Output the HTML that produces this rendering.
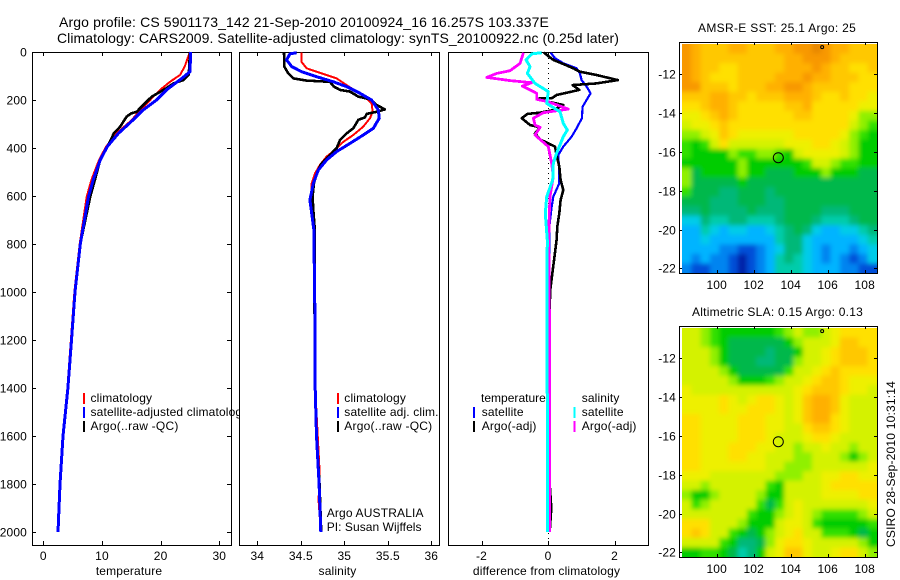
<!DOCTYPE html>
<html lang="en">
<head>
<meta charset="utf-8">
<title>Argo profile chart</title>
<style>
html,body{margin:0;padding:0;background:#fff;}
svg{display:block;font-family:"Liberation Sans",sans-serif;font-size:12px;fill:#000;letter-spacing:0.15px;}
text{fill:#000;}
</style>
</head>
<body>
<svg id="chart" xmlns="http://www.w3.org/2000/svg" width="900" height="580" viewBox="0 0 900 580">
<defs>
<filter id="soften" x="-10%" y="-10%" width="120%" height="120%"><feGaussianBlur stdDeviation="2.4"/></filter>
<clipPath id="clip-sst"><rect x="682" y="44" width="195" height="229"/></clipPath>
<clipPath id="clip-sla"><rect x="682" y="328" width="195" height="229"/></clipPath>
</defs>
<rect x="0" y="0" width="900" height="580" fill="#fff"/>
<text x="59" y="27" font-size="14" textLength="490" lengthAdjust="spacing">Argo profile: CS 5901173_142 21-Sep-2010 20100924_16 16.257S 103.337E</text>
<text x="57" y="43" font-size="14" textLength="562" lengthAdjust="spacing">Climatology: CARS2009. Satellite-adjusted climatology: synTS_20100922.nc (0.25d later)</text>
<g id="layer"></g>
</svg>
<script>
// ---- depth tick labels ----
const depthTicks = [0,200,400,600,800,1000,1200,1400,1600,1800,2000];
const tempTicks = [0,10,20,30];
const salTicks = [34,34.5,35,35.5,36];
const diffTicks = [-2,0,2];
const lonTicks = [100,102,104,106,108];
const latTicks = [12,14,16,18,20,22];

// ---- temperature panel ----
const tempClimDepth = [0,19,61,96,124,158,200,242,283,339,394,450,533,603,800,1000,1200,1400,1600,1720,1800,2000];
const tempClimValue = [25.0,24.7,24.1,23.3,21.6,19.9,18.2,16.5,15.1,12.5,10.7,9.5,8.2,7.4,6.2,5.3,4.7,4.1,3.4,3.0,2.85,2.5];
const tempSatDepth = [0,82,110,158,200,242,283,339,394,450,533,603,800,1000,1200,1400,1600,1800,2000];
const tempSatValue = [25.1,25.0,23.6,21.0,19.3,17.0,15.3,12.8,10.9,9.7,8.5,7.7,6.3,5.4,4.8,4.2,3.35,2.85,2.5];
const tempArgoDepth = [0,94,117,131,158,186,214,249,256,269,311,339,367,394,450,533,603,800,1000,1200,1400,1600,1800,2000];
const tempArgoValue = [25.0,24.8,23.9,22.2,20.5,18.5,17.3,15.9,15.0,14.2,13.1,12.0,11.5,10.9,9.7,8.8,8.0,6.3,5.4,4.8,4.2,3.35,2.88,2.5];

// ---- salinity panel ----
const salClimDepth = [3,40,68,82,96,110,138,165,193,214,249,276,311,346,374,408,436,471,506,547,603,658,728,783,1000,1400,1740,1870,2000];
const salClimValue = [34.506,34.506,34.567,34.682,34.797,34.912,35.027,35.142,35.257,35.314,35.326,35.295,35.218,35.103,34.989,34.893,34.797,34.720,34.663,34.625,34.617,34.625,34.651,34.651,34.66,34.665,34.715,34.705,34.73];
const salSatDepth = [3,8,33,61,82,103,124,144,172,200,242,276,318,346,381,415,450,492,547,617,672,742,783,1000,1400,1600,1800,2000];
const salSatValue = [34.452,34.375,34.337,34.395,34.51,34.682,34.874,35.027,35.18,35.314,35.391,35.402,35.333,35.218,35.065,34.912,34.797,34.701,34.644,34.605,34.625,34.651,34.651,34.66,34.665,34.68,34.71,34.73];
const salArgoDepth = [3,61,89,110,119,124,144,158,165,186,197,221,239,249,258,272,283,318,339,367,401,436,464,499,547,603,658,728,783,1000,1400,1600,1800,2000];
const salArgoValue = [34.307,34.31,34.356,34.414,34.567,34.835,34.881,34.95,35.065,35.161,35.295,35.372,35.467,35.372,35.257,35.238,35.161,35.103,35.027,34.95,34.912,34.816,34.739,34.69,34.651,34.636,34.644,34.659,34.659,34.655,34.668,34.682,34.715,34.735];

// ---- difference panel ----
const diffTempSatDepth = [3,26,47,68,89,117,144,172,200,228,276,318,353,394,429,506,547,603,644,728,783,1000,1500,2000];
const diffTempSatValue = [0.08,0.21,0.46,0.86,0.96,1.01,1.16,1.28,1.16,1.04,1.02,0.86,0.71,0.46,0.31,0.34,0.34,0.16,0.11,0.04,0.04,0.03,0.03,0.03];
const diffTempArgoDepth = [3,33,50,68,82,96,117,131,138,158,179,193,194,207,221,242,253,258,276,304,314,339,364,394,429,478,533,575,617,672,728,783,1000,1500,1800,1900,2000];
const diffTempArgoValue = [-0.12,0.16,0.46,0.76,0.96,1.46,2.10,1.46,0.74,0.94,0.26,0.11,-0.34,0.01,0.46,0.16,-0.24,-0.62,-0.79,-0.54,-0.24,-0.39,-0.24,0.21,0.26,0.34,0.38,0.46,0.38,0.34,0.28,0.26,0.06,0.04,0.05,0.1,0.05];
const diffSalSatDepth = [3,8,33,61,89,131,165,214,249,297,325,353,422,464,533,603,672,783,1000,1500,2000];
const diffSalSatValue = [-0.19,-0.49,-0.66,-0.54,-0.62,-0.39,0.01,-0.04,0.36,0.46,0.58,0.46,0.26,0.16,0.14,-0.04,-0.08,-0.02,-0.03,-0.02,-0.02];
const diffSalArgoDepth = [3,47,78,89,106,119,128,142,158,172,197,207,238,253,276,304,314,346,394,464,519,603,672,783,1000,1500,2000];
const diffSalArgoValue = [-0.74,-0.84,-1.14,-1.54,-1.84,-1.14,-0.49,-0.77,-0.54,-0.34,-0.34,0.01,0.61,-0.14,-0.44,-0.39,-0.24,-0.39,0.01,0.11,0.16,0.06,0.04,0.02,0.04,0.05,0.05];

// ---- map colour levels ----
const levelColors = ['#0020a8','#0050d8','#0084f0','#00b4ff','#00cce8','#00ccaa','#00b878','#00b84c','#00cc00','#30e000','#90f000','#d4f200','#eef000','#ffe000','#ffc800','#ffb000','#f89800','#e88800'];

// ---- AMSR-E SST field, rows north to south, levels ----
const sstRows = [
[16,15,14,14,14,15,15,14,14,14,15,15,16,16,17,16,15,15,14,14,14],
[16,15,14,14,14,14,14,14,14,14,14,15,15,16,16,16,15,14,14,14,14],
[16,15,14,14,13,13,14,14,14,14,14,15,15,15,16,15,14,14,13,13,14],
[16,15,14,13,13,13,14,14,14,14,15,15,15,16,15,15,14,14,14,13,13],
[16,16,14,14,14,13,14,14,14,15,15,16,16,15,14,14,14,14,13,13,13],
[14,14,14,15,15,14,14,13,14,14,14,15,15,15,14,13,13,14,13,13,12],
[13,13,14,15,15,14,13,13,13,13,13,14,14,15,13,13,13,13,13,12,12],
[12,12,13,14,15,14,13,13,13,13,13,13,14,14,13,13,13,13,12,10,10],
[11,12,12,13,14,13,13,13,13,13,13,13,13,13,13,13,13,13,11,10,9],
[10,10,11,12,14,13,12,12,12,12,12,12,13,13,13,13,13,12,10,9,8],
[9,8,9,11,13,11,11,11,11,11,11,12,12,12,13,13,12,11,10,8,8],
[9,8,8,8,8,10,9,9,10,10,9,8,11,12,12,12,12,11,10,8,8],
[8,8,8,8,8,8,10,8,8,8,8,8,8,9,11,11,10,9,9,8,8],
[10,7,8,8,8,8,10,8,8,7,7,7,8,8,8,10,8,8,8,7,7],
[10,7,7,7,7,7,8,7,7,7,7,7,7,7,7,7,7,7,7,7,7],
[9,7,7,7,6,6,7,7,7,6,7,7,7,7,7,7,7,7,7,7,7],
[7,7,7,6,6,6,7,7,7,6,6,7,7,7,7,7,7,7,7,7,7],
[6,6,7,6,6,6,6,7,6,6,6,7,7,7,7,6,6,6,7,7,7],
[4,4,6,5,5,6,6,5,5,5,6,7,7,7,6,5,5,5,6,7,7],
[3,3,5,4,3,4,4,3,3,4,5,6,7,6,4,3,3,4,4,5,6],
[3,3,4,3,3,3,3,3,3,3,5,6,6,4,3,3,3,3,3,4,5],
[3,3,3,3,2,2,1,1,2,3,4,6,6,4,3,2,3,3,2,3,4],
[3,2,3,2,2,1,0,1,2,3,5,6,5,4,3,2,3,2,1,2,4],
[2,1,1,2,2,1,0,1,2,3,5,5,5,4,3,3,3,2,2,1,1]
];

// ---- Altimetric SLA field, rows north to south, levels ----
const slaRows = [
[11,11,10,9,8,8,8,8,8,8,9,10,11,10,10,11,12,13,13,13,13],
[11,11,10,9,8,7,7,7,7,7,7,8,10,11,11,11,12,14,14,13,13],
[11,11,11,10,8,7,7,7,7,6,7,7,8,11,11,12,13,14,14,14,13],
[11,11,11,10,8,7,7,7,6,6,7,7,10,11,11,12,13,14,14,14,13],
[11,11,11,11,10,8,7,7,7,7,7,9,11,11,12,13,14,13,13,13,13],
[11,11,11,11,11,10,8,8,8,9,10,11,11,12,13,14,14,13,12,12,12],
[12,11,11,11,11,11,11,11,11,11,11,11,12,13,14,14,14,13,12,12,11],
[12,12,12,12,13,12,11,12,13,13,12,11,12,14,15,15,14,12,11,11,11],
[12,12,12,12,13,12,12,13,13,13,12,11,12,14,15,15,14,12,11,11,11],
[13,13,12,12,12,12,13,13,13,12,12,11,12,14,15,15,13,12,11,11,11],
[13,13,12,12,12,12,13,13,13,12,12,11,11,13,14,14,13,12,11,11,11],
[13,13,12,12,12,12,13,13,13,12,11,11,11,12,13,13,12,11,11,11,11],
[13,13,12,12,12,13,13,13,12,12,11,11,10,11,11,12,11,11,10,11,11],
[13,13,12,12,12,13,13,12,12,11,11,11,10,10,11,11,11,10,8,10,11],
[13,13,12,12,12,12,12,12,12,11,11,10,10,10,11,11,11,11,11,11,12],
[12,12,12,11,11,11,11,11,11,11,10,10,10,11,11,12,12,13,13,12,12],
[11,11,10,11,11,11,11,11,11,9,8,11,11,11,11,12,13,13,13,13,13],
[10,8,8,10,11,11,11,11,10,8,8,11,11,11,11,12,12,12,12,13,13],
[11,9,10,11,11,11,11,11,9,7,9,11,12,11,11,11,11,11,11,11,12],
[11,11,11,11,11,11,11,9,8,8,10,11,12,11,10,9,9,9,9,10,11],
[13,13,13,11,11,11,10,8,8,8,11,12,12,11,9,8,8,8,8,8,9],
[13,14,13,11,11,9,8,7,8,10,11,12,13,11,11,9,9,9,8,7,8],
[11,11,11,11,9,8,6,6,7,10,12,13,13,12,11,11,11,11,11,10,8],
[8,8,9,9,8,7,5,6,8,11,12,14,14,12,11,11,12,13,13,11,10]
];

// ---- profile location ----
const argoLon = [103.33];
const argoLat = [16.3];
const markerLon = [105.7];
const markerLat = [10.6];

const NS = 'http://www.w3.org/2000/svg';
const layer = document.getElementById('layer');

function mk(tag, attrs, parent) {
  const el = document.createElementNS(NS, tag);
  for (const k in attrs) el.setAttribute(k, attrs[k]);
  (parent || layer).appendChild(el);
  return el;
}
function label(x, y, str, anchor, name) {
  const el = mk('text', {x: x, y: y, 'text-anchor': anchor});
  el.textContent = str;
  
  
  return el;
}
function tick(x1, y1, x2, y2, name) {
  const el = mk('line', {x1: x1, y1: y1, x2: x2, y2: y2, stroke: '#000', 'stroke-width': 1, 'shape-rendering': 'crispEdges'});
  
  
}
function frame(x, y, w, h, fill, name) {
  const el = mk('rect', {x: x + 0.5, y: y + 0.5, width: w, height: h, fill: fill, stroke: '#000', 'stroke-width': 1, 'shape-rendering': 'crispEdges'});
  
  
}

// depth axis shared by the three profile panels
const depthY = d => 52 + d * 0.24;
const PANEL_TOP = 52, PANEL_BOTTOM = 545;

function profile(xFn, depths, values, color, width, name) {
  const pts = depths.map((d, i) => xFn(values[i]).toFixed(1) + ',' + depthY(d).toFixed(1)).join(' ');
  const el = mk('polyline', {points: pts, fill: 'none', stroke: color, 'stroke-width': width, 'stroke-linejoin': 'round', 'shape-rendering': 'crispEdges'});
  
  
}
function panel(left, right, xFn, ticks, fmt, title, titleX, prefix, depthLabels) {
  frame(left, PANEL_TOP, right - left, PANEL_BOTTOM - PANEL_TOP, '#fff', prefix + '-panel-frame');
  ticks.forEach(t => {
    const x = Math.round(xFn(t)) + 0.5;
    tick(x, PANEL_TOP, x, PANEL_TOP + 4, prefix + '-top-tick');
    tick(x, PANEL_BOTTOM, x, PANEL_BOTTOM - 4, prefix + '-bottom-tick');
    label(xFn(t), 560, fmt(t), 'middle', prefix + '-x-tick-label');
  });
  if (depthLabels) {
    depthTicks.forEach(d => {
      const y = Math.round(depthY(d)) + 0.5;
      tick(left, y, left + 4, y, 'depth-left-tick');
      tick(right, y, right - 4, y, 'depth-right-tick');
      label(27, y + 4, String(d), 'end', 'depth-tick-label');
    });
  }
  label(titleX, 575, title, 'middle', prefix + '-axis-title');
}
function legendBar(x, y, color, name) {
  const el = mk('rect', {x: x, y: y, width: 2, height: 11, fill: color, 'shape-rendering': 'crispEdges'});
  
  
}

// temperature panel
const tempX = t => 43.3 + t * 5.867;
panel(32, 231, tempX, tempTicks, String, 'temperature', 129, 'temperature', true);
profile(tempX, tempClimDepth, tempClimValue, '#ff0000', 2, 'temperature-climatology-line');
profile(tempX, tempArgoDepth, tempArgoValue, '#000000', 2.6, 'temperature-argo-line');
profile(tempX, tempSatDepth, tempSatValue, '#0000ff', 3, 'temperature-satellite-line');
legendBar(83, 393, '#ff0000', 'temperature-legend-climatology-swatch');
legendBar(83, 407, '#0000ff', 'temperature-legend-satellite-swatch');
legendBar(83, 421, '#000000', 'temperature-legend-argo-swatch');
label(90.5, 402, 'climatology', 'start', 'temperature-legend-climatology');
label(90.5, 416, 'satellite-adjusted climatology', 'start', 'temperature-legend-satellite');
label(90.5, 430, 'Argo(..raw -QC)', 'start', 'temperature-legend-argo').setAttribute('textLength', '88');

// salinity panel
const salX = s => 257.3 + (s - 34) * 87;
panel(239, 439, salX, salTicks, String, 'salinity', 337.5, 'salinity', false);
profile(salX, salClimDepth, salClimValue, '#ff0000', 2, 'salinity-climatology-line');
profile(salX, salArgoDepth, salArgoValue, '#000000', 2.6, 'salinity-argo-line');
profile(salX, salSatDepth, salSatValue, '#0000ff', 3, 'salinity-satellite-line');
legendBar(337, 393, '#ff0000', 'salinity-legend-climatology-swatch');
legendBar(337, 407, '#0000ff', 'salinity-legend-satellite-swatch');
legendBar(337, 421, '#000000', 'salinity-legend-argo-swatch');
label(344.3, 402, 'climatology', 'start', 'salinity-legend-climatology');
label(344.3, 416, 'satellite adj. clim.', 'start', 'salinity-legend-satellite');
label(344.3, 430, 'Argo(..raw -QC)', 'start', 'salinity-legend-argo').setAttribute('textLength', '88');
label(326.7, 517, 'Argo AUSTRALIA', 'start', 'argo-program-note').setAttribute('textLength', '97');
label(326.7, 531, 'PI: Susan Wijffels', 'start', 'principal-investigator-note').setAttribute('textLength', '95');

// difference panel
const diffX = v => 548 + v * 33.25;
panel(448, 648, diffX, diffTicks, String, 'difference from climatology', 546.5, 'difference', false);
const zeroLine = mk('line', {x1: 548.5, y1: 53, x2: 548.5, y2: 545, stroke: '#000', 'stroke-width': 1, 'stroke-dasharray': '1 4', 'shape-rendering': 'crispEdges'});


profile(diffX, diffTempSatDepth, diffTempSatValue, '#0000ff', 2.2, 'difference-temperature-satellite-line');
profile(diffX, diffTempArgoDepth, diffTempArgoValue, '#000000', 2.6, 'difference-temperature-argo-line');
profile(diffX, diffSalArgoDepth, diffSalArgoValue, '#ff00ff', 2.8, 'difference-salinity-argo-line');
profile(diffX, diffSalSatDepth, diffSalSatValue, '#00ffff', 3, 'difference-salinity-satellite-line');
label(481, 402, 'temperature', 'start', 'difference-legend-temperature-heading').setAttribute('textLength', '65');
legendBar(473, 407, '#0000ff', 'difference-legend-temperature-satellite-swatch');
label(481.7, 416, 'satellite', 'start', 'difference-legend-temperature-satellite');
legendBar(473, 421, '#000000', 'difference-legend-temperature-argo-swatch');
label(481.7, 430, 'Argo(-adj)', 'start', 'difference-legend-temperature-argo');
label(581.7, 402, 'salinity', 'start', 'difference-legend-salinity-heading');
legendBar(573.5, 407, '#00ffff', 'difference-legend-salinity-satellite-swatch');
label(581.7, 416, 'satellite', 'start', 'difference-legend-salinity-satellite');
legendBar(573.5, 421, '#ff00ff', 'difference-legend-salinity-argo-swatch');
label(581.7, 430, 'Argo(-adj)', 'start', 'difference-legend-salinity-argo');

// maps
function drawMap(rows, top, bottom, lat12Y, title, titleX, titleWidth, titleY, xLabelY, prefix) {
  const left = 679, right = 877, cellLeft = 682;
  const lonX = lon => 716.7 + (lon - 100) * 18.5;
  const latY = lat => lat12Y + (lat - 12) * 19.4;
  frame(left, top, right - left, bottom - top, '#fff', prefix + '-map-frame');
  const dataTop = top + 2;
  const cw = (right - cellLeft) / rows[0].length;
  const ch = (bottom - dataTop) / rows.length;
  const clipGroup = mk('g', {'clip-path': 'url(#clip-' + prefix + ')'});
  
  
  const blurGroup = mk('g', {filter: 'url(#soften)'}, clipGroup);
  const pad = 12; // outer cells run past the clip so softening keeps edge colours
  rows.forEach((row, r) => {
    row.forEach((level, c) => {
      const padL = c === 0 ? pad : 0;
      const padR = c === row.length - 1 ? pad : 0;
      const padT = r === 0 ? pad : 0;
      const padB = r === rows.length - 1 ? pad : 0;
      const cell = mk('rect', {
        x: (cellLeft + c * cw - padL).toFixed(2),
        y: (dataTop + r * ch - padT).toFixed(2),
        width: (cw + 0.4 + padL + padR).toFixed(2),
        height: (ch + 0.4 + padT + padB).toFixed(2),
        fill: levelColors[level]
      }, blurGroup);
      
      
    });
  });
  frame(left, top, right - left, bottom - top, 'none', prefix + '-map-border');
  lonTicks.forEach(lon => {
    const x = Math.round(lonX(lon)) + 0.5;
    tick(x, top, x, top + 3, prefix + '-lon-top-tick');
    tick(x, bottom, x, bottom - 3, prefix + '-lon-bottom-tick');
    label(lonX(lon), xLabelY, String(lon), 'middle', prefix + '-lon-tick-label');
  });
  latTicks.forEach(lat => {
    const y = Math.round(latY(lat)) + 0.5;
    tick(left, y, left + 3, y, prefix + '-lat-left-tick');
    tick(right, y, right - 3, y, prefix + '-lat-right-tick');
    label(676, y + 4, '-' + lat, 'end', prefix + '-lat-tick-label');
  });
  const mapTitle = label(titleX, titleY, title, 'start', prefix + '-map-title');
  mapTitle.setAttribute('textLength', titleWidth);
  const ring = mk('circle', {cx: lonX(argoLon[0]), cy: latY(argoLat[0]), r: 5, fill: 'none', stroke: '#000', 'stroke-width': 1});
  
  
  const star = mk('circle', {cx: lonX(markerLon[0]), cy: latY(markerLat[0]), r: 1.5, fill: 'none', stroke: '#000', 'stroke-width': 1});
  
  
}
drawMap(sstRows, 42, 273, 74.3, 'AMSR-E SST: 25.1 Argo: 25', 698, 158, 32, 289, 'sst');
drawMap(slaRows, 326, 557, 358.3, 'Altimetric SLA: 0.15 Argo: 0.13', 692, 171, 316, 573, 'sla');

const stamp = label(0, 0, 'CSIRO 28-Sep-2010 10:31:14', 'start', 'creation-stamp');
stamp.setAttribute('transform', 'translate(895,547) rotate(-90)');
stamp.setAttribute('textLength', '166');
</script>
</body>
</html>
